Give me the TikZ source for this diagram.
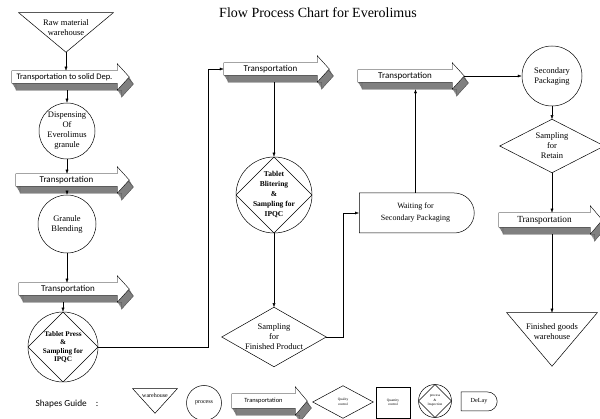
\documentclass[tikz,border=0pt]{standalone}
\usepackage{fontspec}
\setmainfont{Liberation Serif}
\setsansfont{Carlito}
\usetikzlibrary{calc,arrows.meta,shapes.misc}

\pgfdeclarelayer{back}
\pgfsetlayers{back,main}

\definecolor{tgray}{RGB}{128,128,128}

\tikzset{
    base/.style={inner sep=0pt, align=center, font=\fontsize{8.5}{10}\selectfont},
    proc/.style={base, circle, draw},
    insp/.style={proc, path picture={\draw (path picture bounding box.north) -- (path picture bounding box.east) -- (path picture bounding box.south) -- (path picture bounding box.west) -- cycle;}},
    transp/.style={inner sep=0pt, font=\sffamily\fontsize{9}{10}\selectfont},
    store/.style={base, append after command={\pgfextra{\draw (\tikzlastnode.north west) -- (\tikzlastnode.north east) -- ($(\tikzlastnode.south)+(0,#1)$) -- cycle;}}},
    check/.style={base, append after command={\pgfextra{\draw (\tikzlastnode.north) -- (\tikzlastnode.east) -- (\tikzlastnode.south) -- (\tikzlastnode.west) -- cycle;}}},
    delay/.style={base, rounded rectangle, rounded rectangle left arc=none, draw}
}

% outline of a transport arrow round node #2, moved by #3
\newcommand{\tshape}[3]{%
    \path[#1] ($(#2.north west)+#3$) -- ($(#2.north east)+#3$) -- ($(#2.north east)+#3+(0,-7)$)
        -- ($(#2.east)+#3+(12,0)$) -- ($(#2.south east)+#3+(0,7)$) -- ($(#2.south east)+#3$)
        -- ($(#2.south west)+#3$) -- cycle;}
\newcommand{\tarrow}[1]{%
    \begin{pgfonlayer}{back}
        \foreach \k in {1,...,7} {\tshape{fill=tgray}{#1}{(0.6*\k,\k)}}
        \tshape{draw=black!70}{#1}{(4.2,7)}
        \tshape{draw,fill=white}{#1}{(0,0)}
    \end{pgfonlayer}}

\begin{document}
\begin{tikzpicture}[x=1pt, y=-1pt, line width=0.5pt, >={Latex[length=4pt,width=3pt]}]
\useasboundingbox (0,0) rectangle (600,419);

\node[font=\fontsize{14}{16}\selectfont] (title) at (318,13) {Flow Process Chart for Everolimus};

% first column
\node[store=9, minimum width=94, minimum height=30] (raw) at (66,28) {Raw material\\warehouse};
\node[transp, minimum width=105, minimum height=12, font=\sffamily\fontsize{8.5}{10}\selectfont] (t1) at (64.5,77) {Transportation to solid Dep.};
\node[proc, minimum size=56] (disp) at (67,131) {Dispensing\\Of\\Everolimus\\granule};
\node[transp, minimum width=101, minimum height=12] (t2) at (66.5,180) {Transportation};
\node[proc, minimum size=58] (blend) at (67,224) {Granule\\Blending};
\node[transp, minimum width=98, minimum height=12] (t3) at (68,289) {Transportation};
\node[insp, minimum size=70, font=\bfseries\fontsize{7.2}{8.3}\selectfont] (press) at (63,347) {Tablet Press\\\&\\Sampling for\\IPQC};

% second column
\node[transp, minimum width=93, minimum height=12] (t4) at (270.5,69) {Transportation};
\node[insp, minimum size=76, font=\bfseries\fontsize{7.5}{10}\selectfont] (blister) at (274,195) {Tablet\\Blitering\\\&\\Sampling for\\IPQC};
\node[check, minimum width=104, minimum height=59] (fin) at (274,337) {Sampling\\for\\Finished Product};

% third column
\node[delay, minimum width=115, minimum height=40, font=\fontsize{8}{12}\selectfont] (wait) at (415.5,213) {Waiting for\\Secondary Packaging};
\node[transp, minimum width=94, minimum height=12] (t5) at (405,76) {Transportation};

% fourth column
\node[proc, minimum size=60] (second) at (552,76) {Secondary\\Packaging};
\node[check, minimum width=104, minimum height=53] (retain) at (552,146) {Sampling\\for\\Retain};
\node[transp, minimum width=91, minimum height=14, font=\rmfamily\fontsize{9.3}{10}\selectfont] (t6) at (544.5,220) {Transportation};
\node[store=15, minimum width=90, minimum height=38] (goods) at (552,332) {Finished goods\\warehouse};

% shapes guide
\node[anchor=west, font=\sffamily\fontsize{9.3}{11}\selectfont] (guide) at (32,404) {Shapes Guide\hspace{9pt}:};
\node[store=12, minimum width=44, minimum height=12, font=\fontsize{6}{7}\selectfont] (gstore) at (155,395) {warehouse};
\node[proc, minimum size=35, font=\fontsize{6}{7}\selectfont] (gproc) at (204,403) {process};
\node[transp, minimum width=63, minimum height=14, font=\sffamily\fontsize{6.4}{7}\selectfont] (gtrans) at (263.5,401) {Transportation};
\node[check, minimum width=60, minimum height=32, font=\fontsize{3.5}{4.5}\selectfont] (gcheck) at (343,402) {Quality\\control};
\node[base, draw, minimum width=34, minimum height=31, font=\fontsize{3.5}{4.5}\selectfont] (gcount) at (393,402.5) {Quantity\\control};
\node[insp, minimum size=33, font=\fontsize{3.5}{4.5}\selectfont] (ginsp) at (435,401) {process\\\&\\Inspection};
\node[delay, minimum width=36, minimum height=19, font=\fontsize{6.2}{7}\selectfont] (gdelay) at (479,401.5) {DeLay};

\tarrow{t1}
\tarrow{t2}
\tarrow{t3}
\tarrow{t4}
\tarrow{t5}
\tarrow{t6}
\tarrow{gtrans}

% connectors
\draw[->] (raw.south) ++(0,9) -- (t1.north -| raw.south);
\draw[->] (t1.south -| disp.north) ++(0,7) -- (disp.north);
\draw[->] (disp.south) -- (t2.north -| disp.south);
\draw[->] (t2.south -| blend.north) ++(0,7) -- (blend.north);
\draw[->] (blend.south) -- (t3.north -| blend.south);
\draw[->] (t3.south -| press.north) ++(0,7) -- (press.north);
\draw[->] (press.east) -- ++(110,0) |- (t4.west);
\draw[->] (t4.south -| blister.north) ++(0,7) -- (blister.north);
\draw[->] (blister.south) -- (fin.north);
\draw[->] (fin.east) -- ++(17,0) |- (wait.west);
\draw[->] (wait.north) -- ($(wait.north |- t5.south)+(0,7)$);
\draw[->] (t5.east) ++(12,0) -- (second.west);
\draw[->] (second.south) -- (retain.north);
\draw[->] (retain.south) -- (t6.north -| retain.south);
\draw[->] (t6.south -| goods.north) ++(0,7) -- (goods.north);
\end{tikzpicture}
\end{document}
